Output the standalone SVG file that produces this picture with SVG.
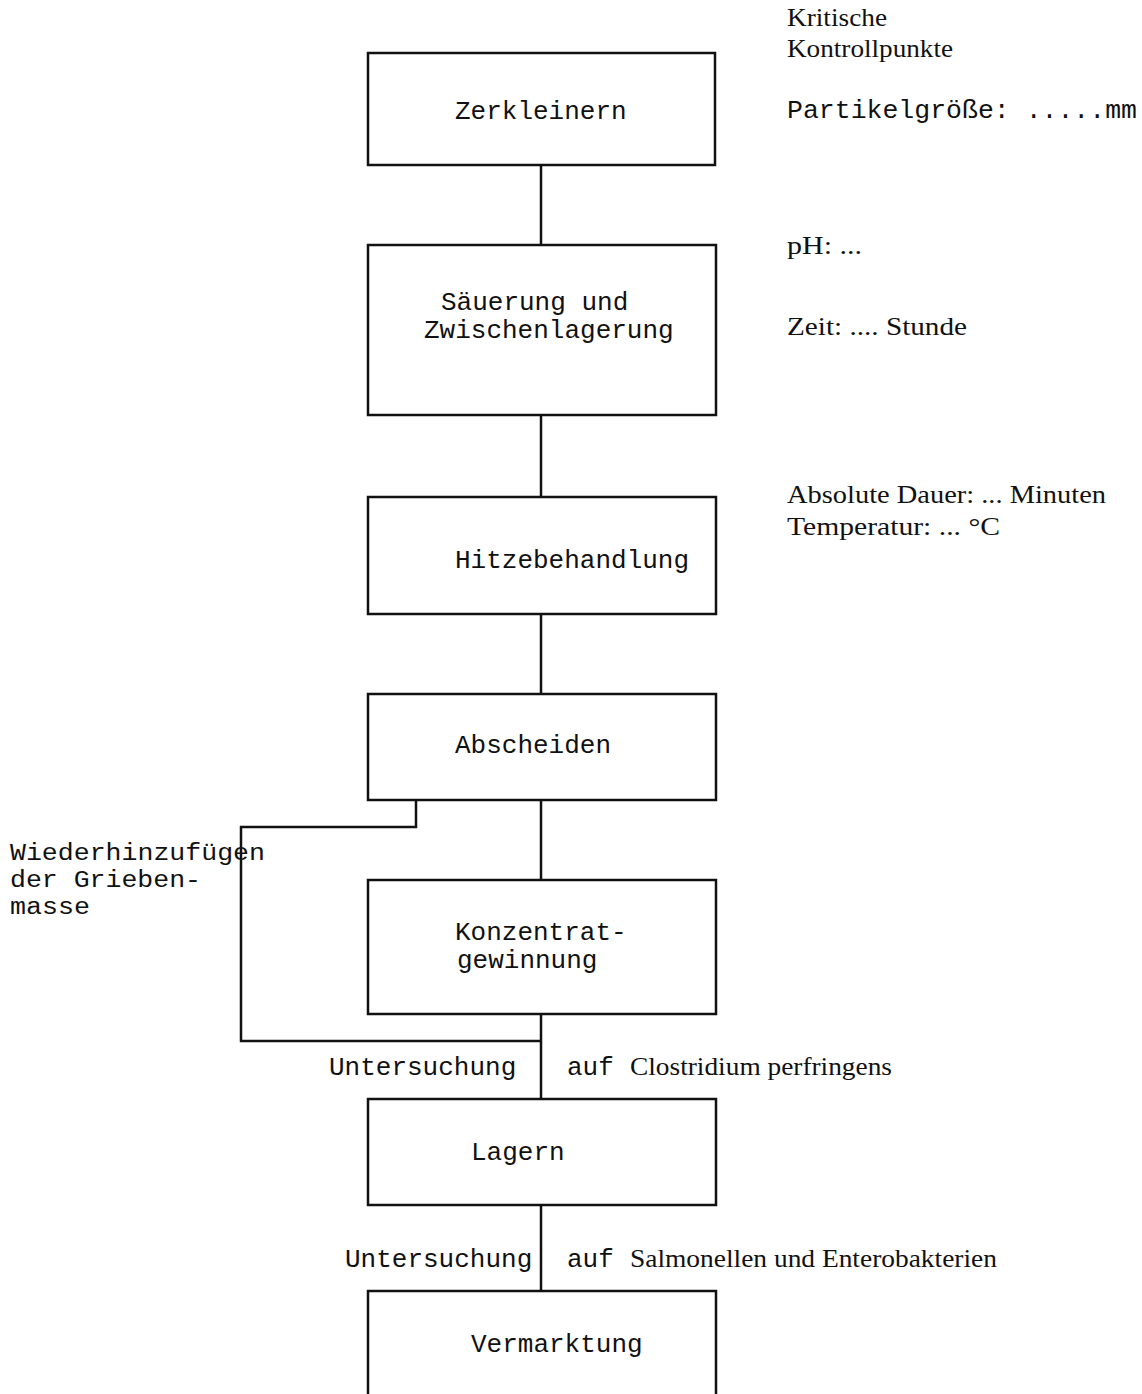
<svg xmlns="http://www.w3.org/2000/svg" width="1142" height="1394" viewBox="0 0 1142 1394">
<style>
.box{fill:none;stroke:#111;stroke-width:2.5}
.con{fill:none;stroke:#111;stroke-width:2.5}
.m{font-family:"Liberation Mono","DejaVu Sans Mono",monospace;font-size:26px;fill:#111}
.ml{font-family:"Liberation Mono","DejaVu Sans Mono",monospace;font-size:23px;fill:#111}
.s{font-family:"Liberation Serif","DejaVu Serif",serif;font-size:25px;fill:#111}
</style>
<rect width="1142" height="1394" fill="#fff"/>
<g id="connectors">
<path class="con" d="M541 165V245M541 415V497M541 614V694M541 800V880M541 1014V1099M541 1205V1291"/>
<path class="con" d="M416 800V827H241V1041H541"/>
</g>
<g id="n1"><rect class="box" x="368" y="53" width="347" height="112"/><text class="m" x="455" y="119">Zerkleinern</text></g>
<g id="n2"><rect class="box" x="368" y="245" width="348" height="170"/><text class="m" x="441" y="310">Säuerung und</text><text class="m" x="424" y="338">Zwischenlagerung</text></g>
<g id="n3"><rect class="box" x="368" y="497" width="348" height="117"/><text class="m" x="455" y="568">Hitzebehandlung</text></g>
<g id="n4"><rect class="box" x="368" y="694" width="348" height="106"/><text class="m" x="455" y="753">Abscheiden</text></g>
<g id="n5"><rect class="box" x="368" y="880" width="348" height="134"/><text class="m" x="455" y="940">Konzentrat-</text><text class="m" x="457" y="968">gewinnung</text></g>
<g id="n6"><rect class="box" x="368" y="1099" width="348" height="106"/><text class="m" x="471" y="1160">Lagern</text></g>
<g id="n7"><path class="box" d="M368 1400V1291H716V1400"/><text class="m" x="471" y="1352">Vermarktung</text></g>
<g id="loop-label"><text class="ml" x="10" y="860" textLength="255" lengthAdjust="spacingAndGlyphs">Wiederhinzufügen</text><text class="ml" x="10" y="887" textLength="191" lengthAdjust="spacingAndGlyphs">der Grieben-</text><text class="ml" x="10" y="914" textLength="80" lengthAdjust="spacingAndGlyphs">masse</text></g>
<g id="test1"><text class="m" x="329" y="1075">Untersuchung</text><text class="m" x="567" y="1075">auf</text><text class="s" x="630" y="1075" textLength="262" lengthAdjust="spacingAndGlyphs">Clostridium perfringens</text></g>
<g id="test2"><text class="m" x="345" y="1267">Untersuchung</text><text class="m" x="567" y="1267">auf</text><text class="s" x="630" y="1267" textLength="367" lengthAdjust="spacingAndGlyphs">Salmonellen und Enterobakterien</text></g>
<g id="ccp">
<text class="s" x="787" y="26" textLength="100" lengthAdjust="spacingAndGlyphs">Kritische</text>
<text class="s" x="787" y="57" textLength="166" lengthAdjust="spacingAndGlyphs">Kontrollpunkte</text>
<text class="m" x="787" y="118" textLength="350" lengthAdjust="spacingAndGlyphs">Partikelgröße: .....mm</text>
<text class="s" x="787" y="254" textLength="75" lengthAdjust="spacingAndGlyphs">pH: ...</text>
<text class="s" x="787" y="335" textLength="180" lengthAdjust="spacingAndGlyphs">Zeit: .... Stunde</text>
<text class="s" x="787" y="503" textLength="319" lengthAdjust="spacingAndGlyphs">Absolute Dauer: ... Minuten</text>
<text class="s" x="787" y="535" textLength="213" lengthAdjust="spacingAndGlyphs">Temperatur: ... °C</text>
</g>
</svg>
